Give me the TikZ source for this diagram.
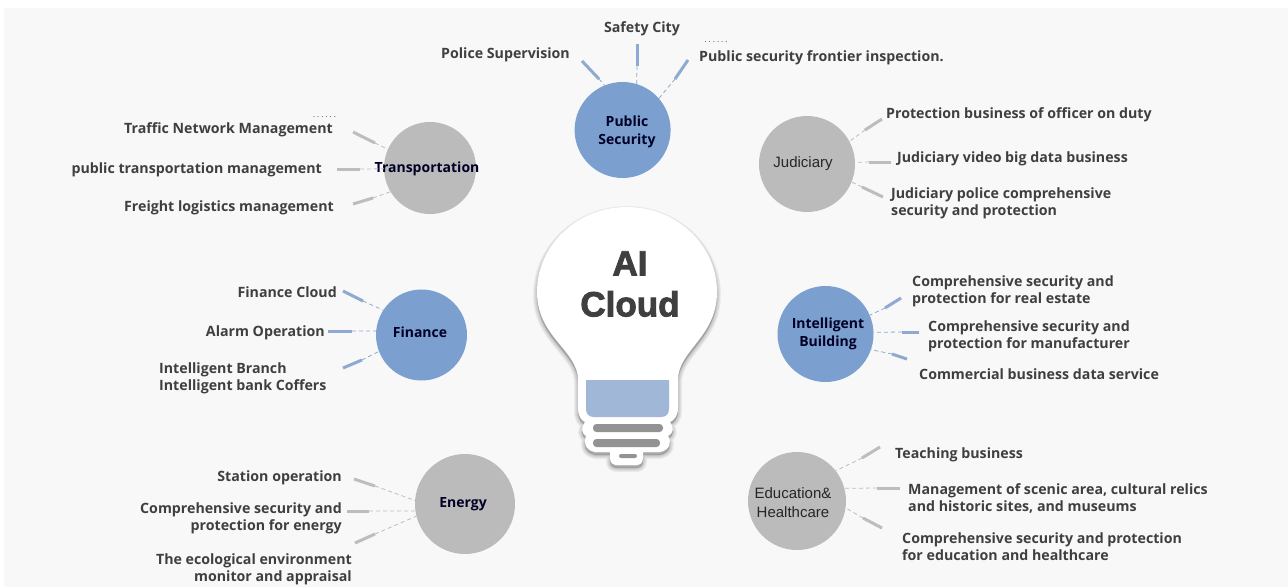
\documentclass[tikz,border=0pt]{standalone}
\usepackage{fontspec}
\setmainfont{Open Sans}
\newfontfamily\heavyfont{Liberation Sans}[BoldFeatures={FakeBold=2.5}]
\newfontfamily\plainhub{Liberation Sans}
\newfontfamily\dotfont{Open Sans}[LetterSpace=25]
\definecolor{bg}{HTML}{F8F8F8}
\definecolor{bluec}{HTML}{7BA0D0}
\definecolor{grayc}{HTML}{BBBBBB}
\definecolor{txt}{HTML}{3F3F3F}
\definecolor{stubb}{HTML}{8FAAD0}
\definecolor{stubg}{HTML}{BDBDBD}
\tikzset{
  x=1pt,y=-1pt,
  hub/.style={circle,inner sep=0pt,outer sep=0pt,minimum size=#1*2pt},
  bluehub/.style={hub=#1,fill=bluec},
  grayhub/.style={hub=#1,fill=grayc},
  hubtext/.style={font=\fontsize{14}{17.5}\selectfont\bfseries,text=black!85!blue,align=center,inner sep=0pt},
  hubplain/.style={font=\plainhub\fontsize{15}{19}\selectfont,text=black!85,align=center,inner sep=0pt},
  lab/.style={font=\fontsize{14.2}{17}\selectfont\bfseries,text=txt,inner sep=0pt,yshift=-1pt},
  labl/.style={lab,anchor=west,align=left},
  labr/.style={lab,anchor=east,align=right},
  dots/.style={font=\dotfont\fontsize{8}{8}\selectfont,text=txt,inner sep=0pt},
  stubB/.style={draw=stubb,line width=3pt},
  stubG/.style={draw=stubg,line width=3pt},
  dashB/.style={draw=stubb,line width=.8pt,dash pattern=on 4pt off 3pt},
  dashG/.style={draw=stubg,line width=.8pt,dash pattern=on 4pt off 3pt},
}
\newcommand{\spoke}[7]{% hub, name, x1,y1,x2,y2, border angle
  \coordinate (#2a) at (#3,#4);
  \coordinate (#2b) at (#5,#6);
  \draw[stub\spokecol] (#2a) -- (#2b);
  \draw[dash\spokecol] (#2b) -- (#1.#7);
}
\newcommand{\bulbbody}{(578,380) .. controls (578,350) and (537,337) .. (537,292) arc[start angle=180,end angle=360,x radius=90,y radius=85] .. controls (717,337) and (678,350) .. (678,380) -- (678,408) .. controls (678,416) and (674,420) .. (670,422) .. controls (674,427) and (674,433) .. (668,436) .. controls (672,442) and (670,450) .. (660,452) -- (643,452) -- (643,458) .. controls (643,463) and (640,465) .. (636,465) -- (617,465) .. controls (613,465) and (610,463) .. (610,458) -- (610,452) -- (595,452) .. controls (585,450) and (583,442) .. (586,436) .. controls (581,433) and (581,427) .. (585,422) .. controls (581,420) and (578,416) .. (578,408) -- cycle}
\begin{document}
\begin{tikzpicture}
\useasboundingbox (0,0) rectangle (1288,587);
\fill[white] (0,0) rectangle (1288,587);
\fill[bg] (4,8) rectangle (1288,587);
% bulb shadow
\foreach \w in {8,6,4,2}{\path[fill=black,fill opacity=.05,draw=black,draw opacity=.05,line width=\w pt,line join=round,yshift=-3pt] \bulbbody;}
\fill[white] \bulbbody;
\fill[fill=stubb!85!white] (586,380) -- (669,380) -- (669,409) .. controls (669,414) and (666,417) .. (661,417) -- (594,417) .. controls (589,417) and (586,414) .. (586,409) -- cycle;
\fill[gray!85,rounded corners=3.5pt] (593,424) rectangle (663,432);
\fill[gray!85,rounded corners=3.5pt] (593,439) rectangle (660,447);
\fill[gray!85,rounded corners=2pt] (619,454) rectangle (637,458);
\node (bulb) [font=\heavyfont\fontsize{35}{41}\selectfont\bfseries,text=txt,align=center,inner sep=0pt] at (630,284) {AI\\Cloud};
% hubs
\node[bluehub=48] (ps) at (622.6,130) {};
\node[grayhub=48] (jud) at (807,164) {};
\node[grayhub=46] (tr) at (430,168) {};
\node[bluehub=45.5] (fin) at (421.5,335) {};
\node[bluehub=48] (ib) at (825.5,334) {};
\node[grayhub=50] (en) at (465,504) {};
\node[grayhub=49] (edu) at (797,501) {};
\node[hubtext] (pst) at (627,132) {Public\\Security};
\node[hubplain] (judt) at (803,164) {Judiciary};
\node[hubtext] (trt) at (427,169) {Transportation};
\node[hubtext] (fint) at (420,332) {Finance};
\node[hubtext] (ibt) at (828,334) {Intelligent\\Building};
\node[hubtext] (ent) at (463,504) {Energy};
\node[hubplain] (edut) at (793,502.5) {Education\&\\Healthcare};
% spokes
\def\spokecol{B}
\spoke{ps}{a1}{582}{61}{599}{79}{112}
\spoke{ps}{a2}{637}{44}{637}{66}{73}
\spoke{ps}{a3}{688}{60}{675}{79}{41}
\spoke{fin}{b1}{343}{291}{363}{301}{147}
\spoke{fin}{b2}{328}{331}{352}{331}{175}
\spoke{fin}{b3}{343}{368}{362}{360}{201}
\spoke{ib}{c1}{901}{298}{885}{308}{23}
\spoke{ib}{c2}{919}{332}{902}{332}{2}
\spoke{ib}{c3}{907}{359}{892}{354}{-19}
\def\spokecol{G}
\spoke{tr}{d1}{353}{132}{375}{143}{156}
\spoke{tr}{d2}{337}{169}{360}{169}{181}
\spoke{tr}{d3}{353}{204}{373}{198}{211}
\spoke{jud}{e1}{882}{119}{865}{130}{28}
\spoke{jud}{e2}{891}{162}{869}{162}{2}
\spoke{jud}{e3}{883}{197}{862}{187}{-22}
\spoke{en}{f1}{354}{479}{375}{486}{176}
\spoke{en}{f2}{347}{511}{369}{511}{188}
\spoke{en}{f3}{355}{543}{375}{534}{194}
\spoke{edu}{g1}{880}{447}{862}{458}{38}
\spoke{edu}{g2}{900}{488}{877}{488}{15}
\spoke{edu}{g3}{882}{528}{863}{518}{-8}
% labels
\node[lab] (l1) at (642,28) {Safety City};
\node[labr] (l2) at (570,54) {Police Supervision};
\node[labl] (l3) at (699,57) {Public security frontier inspection.};
\node[dots] (l3d) at (716,42) {......};
\node[labr] (l4) at (333,129) {Traffic Network Management};
\node[dots] (l4d) at (324.5,117) {......};
\node[labr] (l5) at (322,169) {public transportation management};
\node[labr] (l6) at (334,207) {Freight logistics management};
\node[labl] (l7) at (886,114) {Protection business of officer on duty};
\node[labl] (l8) at (897,158) {Judiciary video big data business};
\node[labl] (l9) at (891,202) {Judiciary police comprehensive\\security and protection};
\node[labl] (l10) at (912,290) {Comprehensive security and\\protection for real estate};
\node[labl] (l11) at (928,335) {Comprehensive security and\\protection  for manufacturer};
\node[labl] (l12) at (919,373) {Commercial business data service};
\node[labl] (l13) at (895,454) {Teaching business};
\node[labl] (l14) at (908,497) {Management of scenic area, cultural relics\\and historic sites, and museums};
\node[labl] (l15) at (902,545.5) {Comprehensive security and protection\\for education and healthcare};
\node[labr] (l16) at (337,291) {Finance Cloud};
\node[labr] (l17) at (325,332) {Alarm Operation};
\node[labl] (l18) at (159,377) {Intelligent Branch\\Intelligent bank Coffers};
\node[labr] (l19) at (342,477) {Station operation};
\node[labr] (l20) at (342,517) {Comprehensive security and\\protection for energy};
\node[labr] (l21) at (352,568) {The ecological environment\\monitor and appraisal};
\end{tikzpicture}
\end{document}
